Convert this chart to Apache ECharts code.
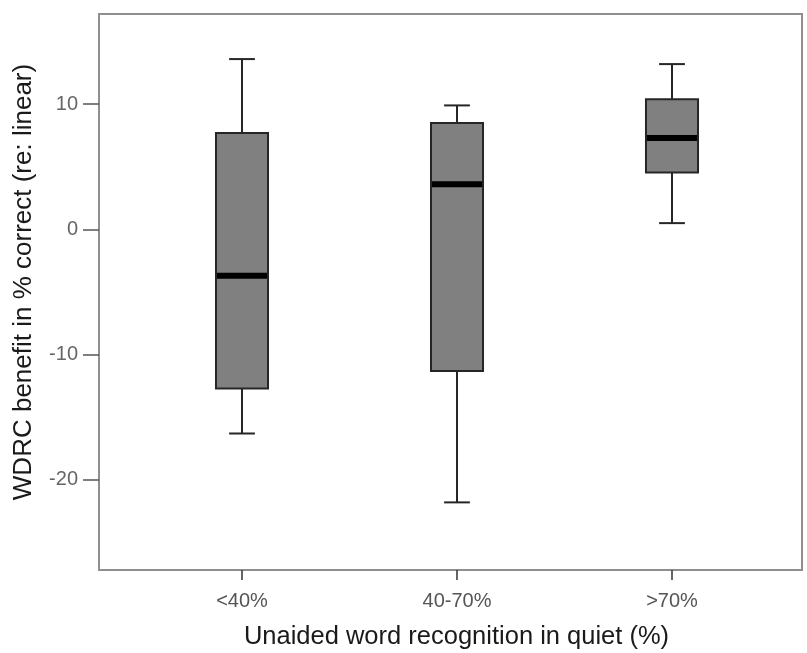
<!DOCTYPE html>
<html>
<head>
<meta charset="utf-8">
<script src="https://cdn.jsdelivr.net/npm/echarts@6/dist/echarts.min.js"></script>
<style>
html,body{margin:0;padding:0;background:#fff;}
#chart{width:807px;height:653px;}
</style>
</head>
<body>
<div id="chart"></div>
<script>
// Data
const categories = ['<40%', '40-70%', '>70%'];
const whiskerLow = [-16.3, -21.8, 0.5];
const q1Values   = [-12.7, -11.3, 4.55];
const medians    = [-3.7, 3.6, 7.3];
const q3Values   = [7.7, 8.5, 10.4];
const whiskerHigh= [13.6, 9.9, 13.2];
const yTickValues = [-20, -10, 0, 10];
const xTitle = 'Unaided word recognition in quiet (%)';
const yTitle = 'WDRC benefit in % correct (re: linear)';

const yMin = -27.2, yMax = 17.2;
const FONT = "'Liberation Sans', Arial, sans-serif";

const seriesData = categories.map((c, i) => [i, whiskerLow[i], q1Values[i], medians[i], q3Values[i], whiskerHigh[i]]);

const chart = echarts.init(document.getElementById('chart'));
chart.setOption({
  backgroundColor: '#ffffff',
  animation: false,
  grid: [
    {left: 99, top: 14, width: 703, height: 556, show: true, borderColor: '#8f8f8f', borderWidth: 2, backgroundColor: 'transparent'},
    {left: 134.5, top: 14, width: 645, height: 556}
  ],
  xAxis: [
    {gridIndex: 0, type: 'value', min: 0, max: 1, show: false},
    {gridIndex: 1, type: 'category', data: categories, position: 'bottom',
     axisLine: {show: false, onZero: false},
     axisTick: {show: true, alignWithLabel: true, length: 10, lineStyle: {color: '#333', width: 1.5}},
     axisLabel: {margin: 21, fontSize: 20, color: '#555', fontFamily: FONT},
     splitLine: {show: false}}
  ],
  yAxis: [
    {gridIndex: 0, type: 'value', min: yMin, max: yMax,
     axisLine: {show: true, lineStyle: {color: '#8f8f8f', width: 2}},
     axisTick: {show: true, length: 16, customValues: yTickValues, lineStyle: {color: '#555', width: 1.5}},
     axisLabel: {show: true, margin: 21, fontSize: 20, color: '#666', fontFamily: FONT, customValues: yTickValues},
     splitLine: {show: false}},
    {gridIndex: 1, type: 'value', min: yMin, max: yMax, show: false, splitLine: {show: false}}
  ],
  graphic: [
    {type: 'text', x: 456.5, y: 637, style: {text: xTitle, font: '25.5px ' + FONT, fill: '#1a1a1a', textAlign: 'center', textVerticalAlign: 'middle'}},
    {type: 'text', x: 24, y: 282, rotation: Math.PI / 2, style: {text: yTitle, font: '26px ' + FONT, fill: '#1a1a1a', textAlign: 'center', textVerticalAlign: 'middle'}}
  ],
  series: [{
    type: 'custom',
    xAxisIndex: 1, yAxisIndex: 1,
    data: seriesData,
    renderItem: function (params, api) {
      const idx = api.value(0);
      const lo = api.coord([idx, api.value(1)]);
      const p1 = api.coord([idx, api.value(2)]);
      const md = api.coord([idx, api.value(3)]);
      const p3 = api.coord([idx, api.value(4)]);
      const hi = api.coord([idx, api.value(5)]);
      const band = api.size([1, 0])[0];
      const bw = band * 0.242;
      const cw = band * 0.12;
      const x = lo[0];
      const stroke = {stroke: '#262626', lineWidth: 2};
      return {
        type: 'group',
        children: [
          {type: 'line', shape: {x1: x, y1: hi[1], x2: x, y2: p3[1]}, style: stroke},
          {type: 'line', shape: {x1: x, y1: p1[1], x2: x, y2: lo[1]}, style: stroke},
          {type: 'line', shape: {x1: x - cw / 2, y1: hi[1], x2: x + cw / 2, y2: hi[1]}, style: stroke},
          {type: 'line', shape: {x1: x - cw / 2, y1: lo[1], x2: x + cw / 2, y2: lo[1]}, style: stroke},
          {type: 'rect', shape: {x: x - bw / 2, y: p3[1], width: bw, height: p1[1] - p3[1]},
           style: {fill: '#808080', stroke: '#262626', lineWidth: 2}},
          {type: 'line', shape: {x1: x - bw / 2 + 1, y1: md[1], x2: x + bw / 2 - 1, y2: md[1]},
           style: {stroke: '#000', lineWidth: 6}}
        ]
      };
    }
  }]
});
</script>
</body>
</html>
